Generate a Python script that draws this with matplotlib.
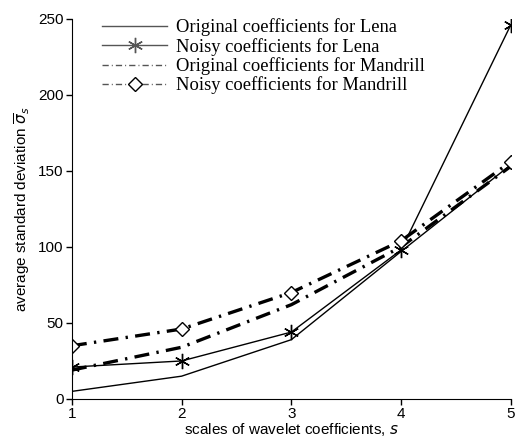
import matplotlib
matplotlib.use("Agg")
import matplotlib.pyplot as plt

scales = [1, 2, 3, 4, 5]
orig_lena = [5, 15, 39, 97, 154]
noisy_lena = [21, 25, 44, 98, 246]
orig_mandrill = [19, 34, 62, 100, 153]
noisy_mandrill = [35, 46, 70, 104, 156]
labels = [
    "Original coefficients for Lena",
    "Noisy coefficients for Lena",
    "Original coefficients for Mandrill",
    "Noisy coefficients for Mandrill",
]
yticks = [0, 50, 100, 150, 200, 250]

plt.rcParams["font.family"] = ["Liberation Sans", "DejaVu Sans"]
plt.rcParams["mathtext.fontset"] = "dejavusans"

fig = plt.figure(figsize=(5.17, 4.37), dpi=100)
ax = fig.add_axes([0.139, 0.087, 0.849, 0.870])

asterisk = (6, 2, 0)
dashdot = (0, (4.5, 2.2, 0.7, 2.2))

ax.plot(scales, orig_lena, color="black", lw=1.0, label=labels[0])
ax.plot(scales, noisy_lena, color="black", lw=1.0, marker=asterisk,
        markersize=11, markeredgewidth=1.0, label=labels[1])
ax.plot(scales, orig_mandrill, color="black", lw=2.4, linestyle=dashdot,
        label=labels[2])
ax.plot(scales, noisy_mandrill, color="black", lw=2.4, linestyle=dashdot,
        marker="D", markersize=7, markerfacecolor="white",
        markeredgecolor="black", markeredgewidth=1.0, label=labels[3])

ax.set_xlim(1, 5)
ax.set_ylim(0, 250)
ax.set_xticks(scales)
ax.set_yticks(yticks)
ax.spines["top"].set_visible(False)
ax.spines["right"].set_visible(False)
ax.tick_params(direction="out", length=4, width=1, labelsize=11, pad=2)

ax.set_xlabel("scales of wavelet coefficients, $s$", fontsize=11, labelpad=0)
ax.set_ylabel(r"average standard deviation $\overline{\sigma}_s$", fontsize=11,
              labelpad=4)

leg = ax.legend(loc="upper left", bbox_to_anchor=(0.04, 1.035), frameon=False,
                prop={"family": "Liberation Serif", "size": 13.3},
                handlelength=3.5, handletextpad=0.5, labelspacing=0.08,
                borderpad=0.2)
for line in leg.get_lines():
    line.set_linewidth(1.0)
    line.set_color("#555555")

fig.savefig("out.png", dpi=100)
